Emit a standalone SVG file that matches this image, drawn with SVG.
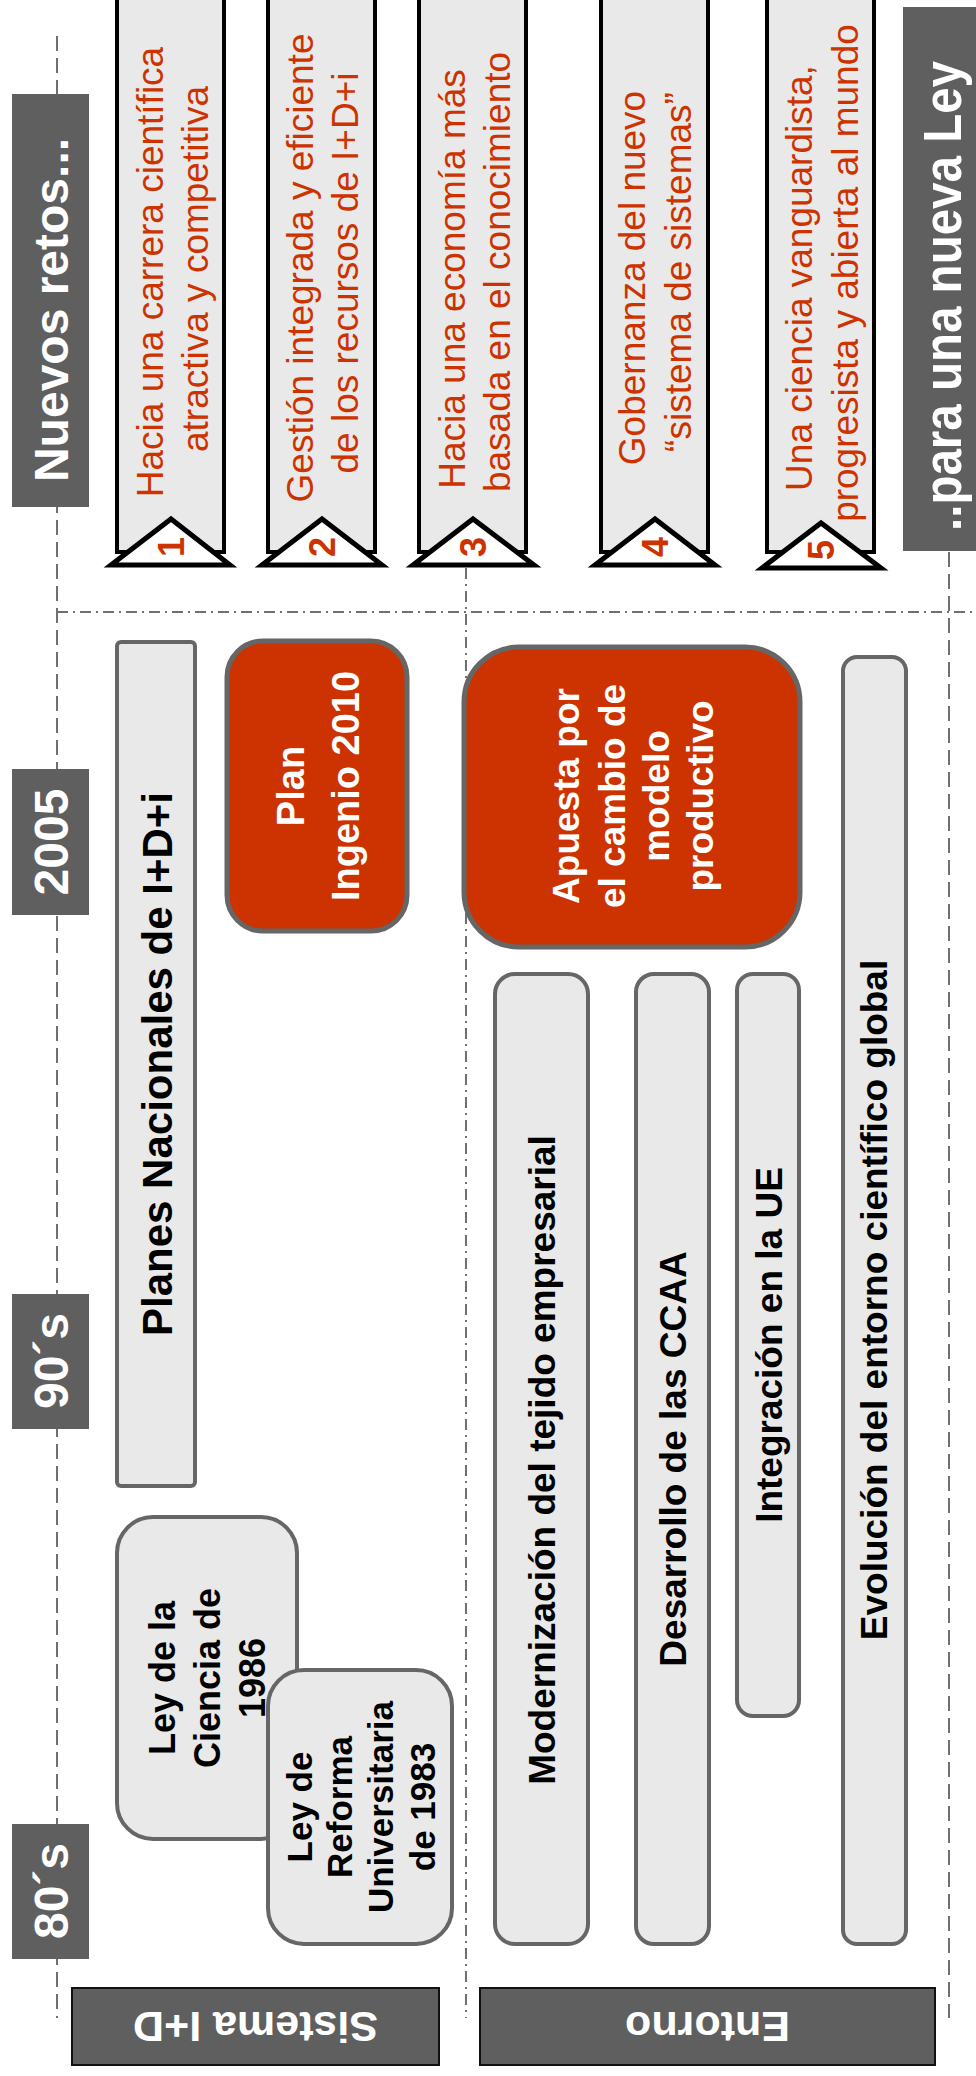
<svg xmlns="http://www.w3.org/2000/svg" width="976" height="2076" viewBox="0 0 976 2076">
<style>
.f{font-family:"Liberation Sans",Arial,Helvetica,sans-serif}
.lbl{fill:#5f5f5f}
.lbl2{fill:#5f5f5f;stroke:#111;stroke-width:2}
.wt{font-weight:bold;fill:#fff}
.bt{font-weight:bold;fill:#000}
.box{fill:#e9e9e9;stroke:#666;stroke-width:4}
.red{fill:#cc3300;stroke:#666;stroke-width:5}
.ban{fill:#e9e9e9;stroke:#000;stroke-width:4}
.tri{fill:#fff;stroke:#000;stroke-width:5;stroke-linejoin:miter}
.rt{fill:#cc3300;font-size:37px}
.num{font-weight:bold;fill:#cc3300;font-size:36px}
.dash{stroke:#707070;stroke-width:2;fill:none;stroke-dasharray:15 7}
.dd{stroke:#707070;stroke-width:2;fill:none;stroke-dasharray:11 5 2 5}
</style>
<rect width="976" height="2076" fill="#fff"/>
<g id="guides">
<line class="dash" x1="57" y1="36" x2="57" y2="2018"/>
<line class="dash" x1="949" y1="552" x2="949" y2="2018"/>
<line class="dd" x1="57" y1="612" x2="976" y2="612"/>
<line class="dd" x1="466" y1="568" x2="466" y2="2018"/>
</g>
<g id="label-nuevos">
<rect class="lbl" x="12" y="94" width="77" height="413"/>
<text class="f wt" font-size="48" text-anchor="middle" transform="rotate(-90)" x="-310" y="68">Nuevos retos...</text>
</g>
<g id="label-2005">
<rect class="lbl" x="12" y="769" width="77" height="146"/>
<text class="f wt" font-size="48" text-anchor="middle" transform="rotate(-90)" x="-842" y="68">2005</text>
</g>
<g id="label-90s">
<rect class="lbl" x="12" y="1294" width="77" height="135"/>
<text class="f wt" font-size="48" text-anchor="middle" transform="rotate(-90)" x="-1361" y="68">90´s</text>
</g>
<g id="label-80s">
<rect class="lbl" x="12" y="1824" width="77" height="135"/>
<text class="f wt" font-size="48" text-anchor="middle" transform="rotate(-90)" x="-1891" y="68">80´s</text>
</g>
<g id="label-ley">
<rect class="lbl" x="903" y="7" width="80" height="544"/>
<text class="f wt" font-size="53" text-anchor="middle" transform="rotate(-90)" x="-296" y="961" textLength="470" lengthAdjust="spacingAndGlyphs">..para una nueva Ley</text>
</g>
<g id="reto-1">
<rect class="ban" x="117" y="-10" width="107" height="562"/>
<text class="f rt" text-anchor="middle" transform="rotate(-90)"><tspan x="-272" y="163">Hacia una carrera científica</tspan><tspan x="-269" y="208">atractiva y competitiva</tspan></text>
<polygon class="tri" points="111,565 171,519 230,565"/>
<text class="f num" text-anchor="middle" transform="rotate(-90)" x="-547" y="184">1</text>
</g>
<g id="reto-2">
<rect class="ban" x="268" y="-10" width="107" height="562"/>
<text class="f rt" text-anchor="middle" transform="rotate(-90)"><tspan x="-268" y="313">Gestión integrada y eficiente</tspan><tspan x="-273" y="358">de los recursos de I+D+i</tspan></text>
<polygon class="tri" points="262,565 322,519 382,565"/>
<text class="f num" text-anchor="middle" transform="rotate(-90)" x="-547" y="335">2</text>
</g>
<g id="reto-3">
<rect class="ban" x="419" y="-10" width="107" height="562"/>
<text class="f rt" text-anchor="middle" transform="rotate(-90)"><tspan x="-279" y="465">Hacia una economía más</tspan><tspan x="-272" y="510">basada en el conocimiento</tspan></text>
<polygon class="tri" points="413,565 473,519 534,565"/>
<text class="f num" text-anchor="middle" transform="rotate(-90)" x="-547" y="486">3</text>
</g>
<g id="reto-4">
<rect class="ban" x="601" y="-10" width="107" height="562"/>
<text class="f rt" text-anchor="middle" transform="rotate(-90)"><tspan x="-278" y="645">Gobernanza del nuevo</tspan><tspan x="-272" y="691">“sistema de sistemas”</tspan></text>
<polygon class="tri" points="595,565 655,519 715,565"/>
<text class="f num" text-anchor="middle" transform="rotate(-90)" x="-547" y="668">4</text>
</g>
<g id="reto-5">
<rect class="ban" x="767" y="-10" width="107" height="562"/>
<text class="f rt" text-anchor="middle" transform="rotate(-90)"><tspan x="-278" y="812">Una ciencia vanguardista,</tspan><tspan x="-273" y="858">progresista y abierta al mundo</tspan></text>
<polygon class="tri" points="762,568 821,523 881,568"/>
<text class="f num" text-anchor="middle" transform="rotate(-90)" x="-550" y="834">5</text>
</g>
<g id="planes">
<rect class="box" x="117" y="642" width="78" height="844" rx="4"/>
<text class="f bt" font-size="42" text-anchor="middle" transform="rotate(-90)" x="-1064" y="172">Planes Nacionales de I+D+i</text>
</g>
<g id="ingenio">
<rect class="red" x="227" y="641" width="180" height="290" rx="36"/>
<text class="f wt" font-size="38" text-anchor="middle" transform="rotate(-90)"><tspan x="-786" y="304">Plan</tspan><tspan x="-786" y="359">Ingenio 2010</tspan></text>
</g>
<g id="ley-ciencia">
<rect class="box" x="117" y="1517" width="180" height="322" rx="36"/>
<text class="f bt" font-size="36" text-anchor="middle" transform="rotate(-90)"><tspan x="-1678" y="175">Ley de la</tspan><tspan x="-1678" y="220">Ciencia de</tspan><tspan x="-1678" y="265">1986</tspan></text>
</g>
<g id="ley-reforma">
<rect class="box" x="268" y="1670" width="184" height="274" rx="36"/>
<text class="f bt" font-size="35" text-anchor="middle" transform="rotate(-90)"><tspan x="-1807" y="312">Ley de</tspan><tspan x="-1807" y="352">Reforma</tspan><tspan x="-1807" y="393">Universitaria</tspan><tspan x="-1807" y="435">de 1983</tspan></text>
</g>
<g id="apuesta">
<rect class="red" x="464" y="647" width="336" height="300" rx="55"/>
<text class="f wt" font-size="37" text-anchor="middle" transform="rotate(-90)"><tspan x="-796" y="579">Apuesta por</tspan><tspan x="-796" y="625">el cambio de</tspan><tspan x="-796" y="669">modelo</tspan><tspan x="-796" y="713">productivo</tspan></text>
</g>
<g id="modernizacion">
<rect class="box" x="495" y="974" width="93" height="970" rx="20"/>
<text class="f bt" font-size="37" text-anchor="middle" transform="rotate(-90)" x="-1460" y="555">Modernización del tejido empresarial</text>
</g>
<g id="desarrollo">
<rect class="box" x="636" y="974" width="73" height="970" rx="18"/>
<text class="f bt" font-size="37" text-anchor="middle" transform="rotate(-90)" x="-1459" y="686">Desarrollo de las CCAA</text>
</g>
<g id="integracion">
<rect class="box" x="737" y="974" width="62" height="742" rx="16"/>
<text class="f bt" font-size="37" text-anchor="middle" transform="rotate(-90)" x="-1345" y="782">Integración en la UE</text>
</g>
<g id="evolucion">
<rect class="box" x="843" y="657" width="63" height="1287" rx="14"/>
<text class="f bt" font-size="37" text-anchor="middle" transform="rotate(-90)" x="-1300" y="887">Evolución del entorno científico global</text>
</g>
<g id="label-sistema">
<rect class="lbl2" x="72" y="1988" width="367" height="77"/>
<text class="f wt" font-size="43" text-anchor="middle" transform="rotate(180 255.5 2027)" x="255.5" y="2042">Sistema I+D</text>
</g>
<g id="label-entorno">
<rect class="lbl2" x="480" y="1988" width="455" height="77"/>
<text class="f wt" font-size="43" text-anchor="middle" transform="rotate(180 707.5 2027)" x="707.5" y="2042">Entorno</text>
</g>
</svg>
